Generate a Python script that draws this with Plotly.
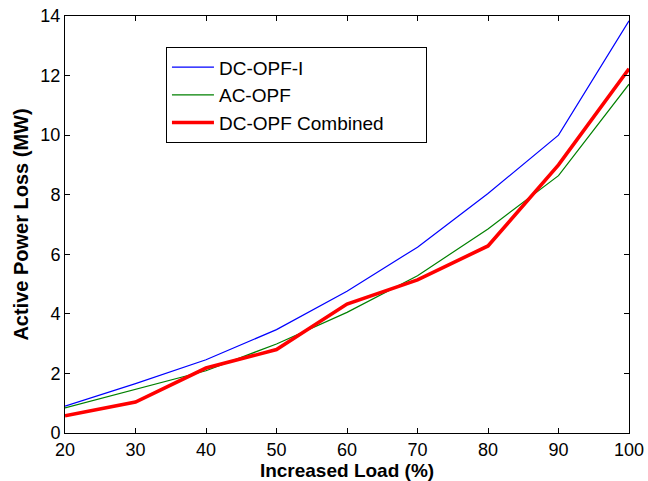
import plotly.graph_objects as go

load_pct = [20, 30, 40, 50, 60, 70, 80, 90, 100]
dc_opf_i = [0.90, 1.66, 2.46, 3.47, 4.76, 6.24, 8.04, 10.0, 13.84]
ac_opf = [0.84, 1.46, 2.09, 2.99, 4.05, 5.28, 6.85, 8.64, 11.71]
dc_opf_combined = [0.58, 1.04, 2.18, 2.80, 4.33, 5.14, 6.28, 9.0, 12.23]

series_names = ["DC-OPF-I", "AC-OPF", "DC-OPF Combined"]
x_ticks = [20, 30, 40, 50, 60, 70, 80, 90, 100]
y_ticks = [0, 2, 4, 6, 8, 10, 12, 14]

FONT = "Liberation Sans, Arial, Helvetica, sans-serif"
PAD = "\u00a0" * 7  # widen legend box like the reference

fig = go.Figure()
styles = [("#0000FF", 1.2), ("#008000", 1.2), ("#FF0000", 3.6)]
for i, (name, ys, (col, w)) in enumerate(zip(series_names,
                                             [dc_opf_i, ac_opf, dc_opf_combined], styles)):
    label = name + (PAD if i == 2 else "")
    fig.add_trace(go.Scatter(x=load_pct, y=ys, mode="lines", name=label,
                             line=dict(color=col, width=w)))

axis_common = dict(showline=True, linecolor="black", linewidth=1, mirror="ticks",
                   ticks="inside", ticklen=5, tickcolor="black", tickwidth=1,
                   showgrid=False, zeroline=False, automargin=False,
                   tickfont=dict(family=FONT, size=18, color="black"))

fig.update_xaxes(range=[20, 100], tickvals=x_ticks,
                 title=dict(text="<b>Increased Load (%)</b>", standoff=2,
                            font=dict(family=FONT, size=19, color="black")),
                 **axis_common)
fig.update_yaxes(range=[0, 14], tickvals=y_ticks,
                 title=dict(text="<b>Active Power Loss (MW)</b>", standoff=6,
                            font=dict(family=FONT, size=20, color="black")),
                 **axis_common)

fig.update_layout(
    width=648, height=481,
    margin=dict(l=65, r=19, t=16, b=48, autoexpand=False),
    paper_bgcolor="white", plot_bgcolor="white",
    showlegend=True,
    legend=dict(x=0.179, y=0.925, xanchor="left", yanchor="top",
                bordercolor="black", borderwidth=1, bgcolor="white",
                itemwidth=42,
                font=dict(family=FONT, size=19, color="black")),
)

fig.write_html("out.html",
               config={"displayModeBar": False},
               post_script="document.body.style.margin='0';document.body.style.overflow='hidden';")
